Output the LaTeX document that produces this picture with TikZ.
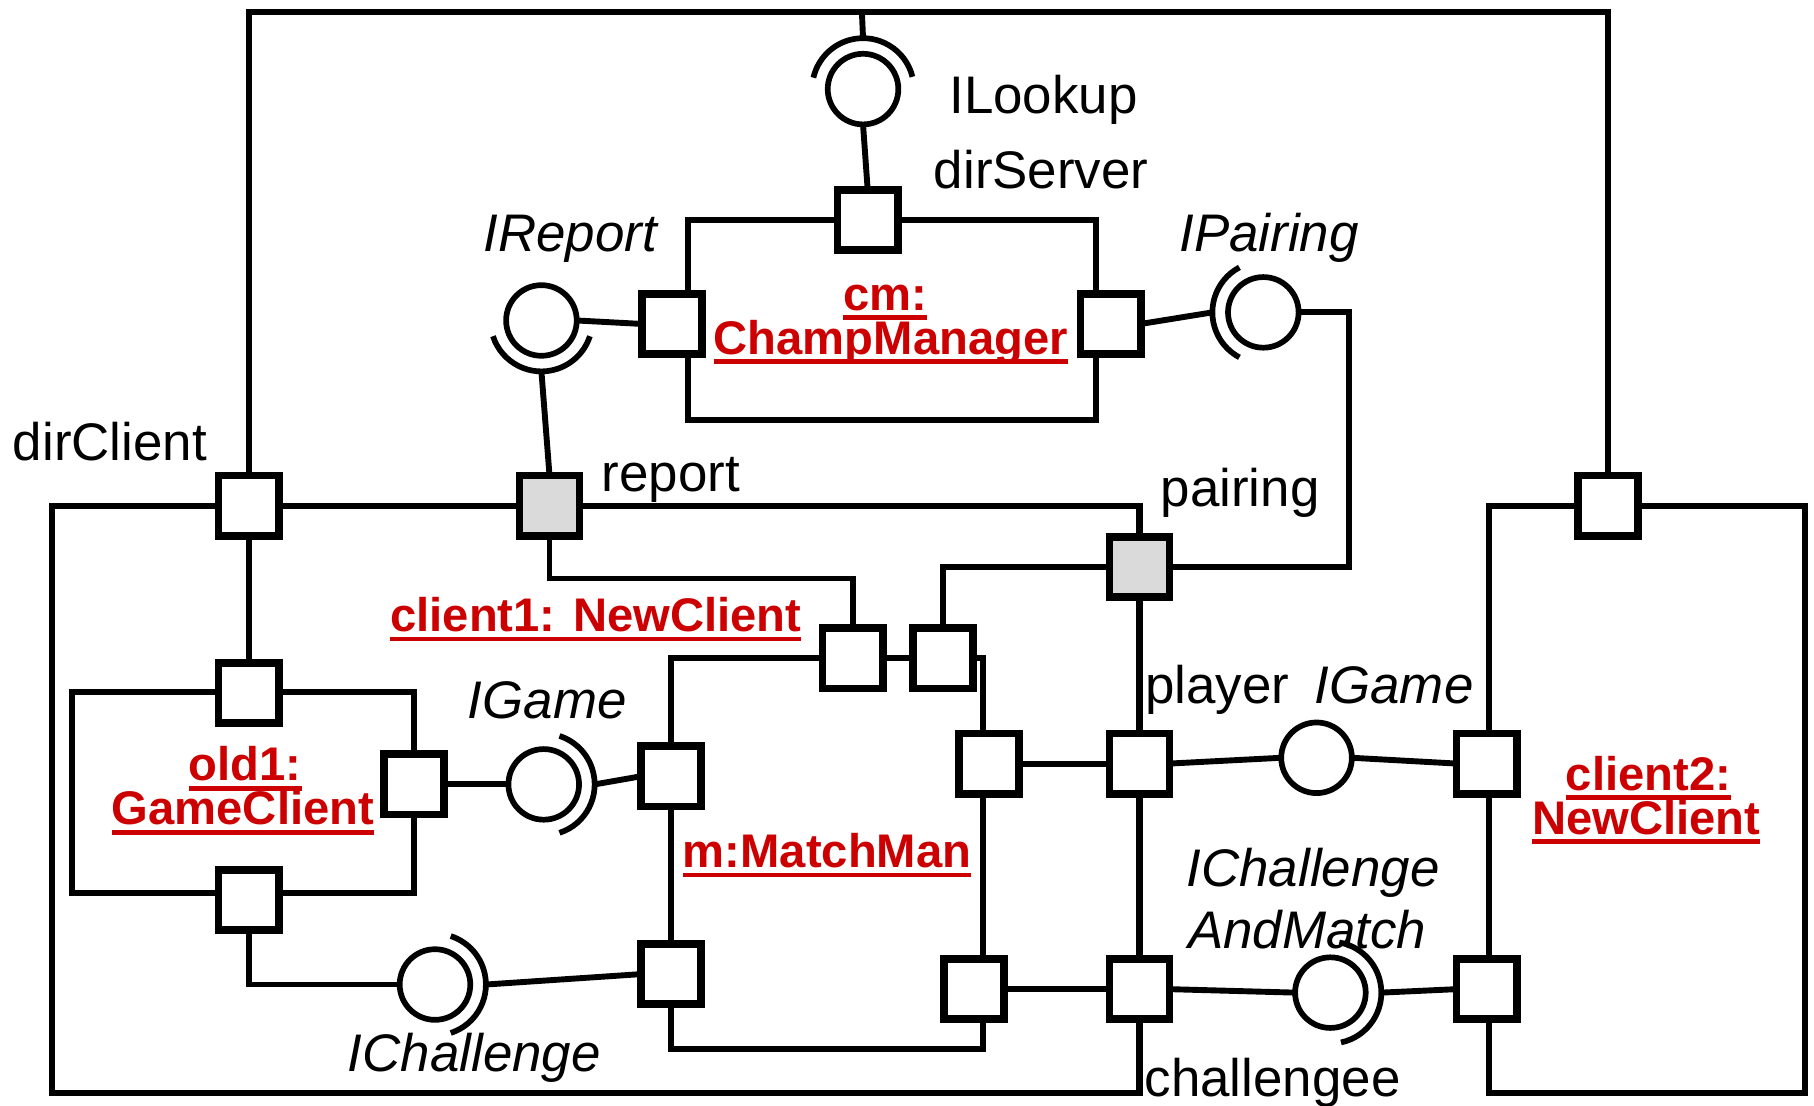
\documentclass[tikz,border=0pt]{standalone}
\usepackage{fontspec}
\setmainfont{Liberation Sans}
\usetikzlibrary{calc}
\definecolor{umlred}{RGB}{204,0,0}
\definecolor{portgray}{RGB}{218,218,218}
% underlined part name with a heavier rule
\newcommand\partul[1]{\setbox0\hbox{#1}\rlap{\rule[-2.4pt]{\wd0}{1.1pt}}\box0}
\tikzset{
  wire/.style={line width=1.45pt},
  frame/.style={line width=1.5pt},
  port/.style={draw, line width=1.9pt, fill=white, minimum size=0.52cm, inner sep=0pt, outer sep=0pt},
  dport/.style={port, fill=portgray},
  ball/.style={draw, circle, line width=1.4pt, minimum size=0.61cm, inner sep=0pt, outer sep=0pt, fill=white},
  sock/.style={line width=1.4pt},
  lbl/.style={font=\fontsize{13}{15.6}\selectfont, inner sep=0pt, anchor=base},
  ilbl/.style={lbl, font=\fontsize{13}{15.6}\selectfont\itshape},
  part/.style={font=\fontsize{11.6}{10}\selectfont\bfseries, text=umlred, inner sep=0pt, anchor=base},
}
\begin{document}
\begin{tikzpicture}[x=0.01cm,y=-0.01cm]
\useasboundingbox (0,0) rectangle (1568,956);

% component frames
\draw[frame] (595,190) rectangle (947,363);   % cm
\draw[frame] (45,437) rectangle (985,945);    % client1
\draw[frame] (62,598) rectangle (358,772);    % old1
\draw[frame] (580,569) rectangle (850,907);   % m
\draw[frame] (1287,437) rectangle (1560,945); % client2

% bends of the outer wires
\coordinate (cTL) at (215,10);
\coordinate (cTR) at (1390,10);
\coordinate (cLk) at (745,10);
\coordinate (kRep) at (737,500);
\coordinate (kPair) at (1166,490);

% ports
\node[port]  (pDirS)   at (750,190) {};
\node[port]  (pRepCm)  at (581,280) {};
\node[port]  (pPairCm) at (960,280) {};
\node[port]  (pDirC)   at (215,437) {};
\node[dport] (pRep)    at (475,437) {};
\node[dport] (pPair)   at (985,490) {};
\node[port]  (pM1)     at (737,569) {};
\node[port]  (pM2)     at (815,569) {};
\node[port]  (pOldT)   at (215,599) {};
\node[port]  (pOldR)   at (358,678) {};
\node[port]  (pOldB)   at (215,778) {};
\node[port]  (pMgL)    at (580,671) {};
\node[port]  (pMcL)    at (580,842) {};
\node[port]  (pMgR)    at (855,660) {};
\node[port]  (pMcR)    at (842,855) {};
\node[port]  (pPlayer) at (985,660) {};
\node[port]  (pChee)   at (985,855) {};
\node[port]  (pC2T)    at (1390,437) {};
\node[port]  (pC2g)    at (1285,660) {};
\node[port]  (pC2c)    at (1285,855) {};

% provided interfaces (balls)
\node[ball] (bLk)    at (746,77) {};
\node[ball] (bRep)   at (468,277) {};
\node[ball] (bPair)  at (1092,270) {};
\node[ball] (bGameL) at (470,678) {};
\node[ball] (bGameR) at (1138,655) {};
\node[ball] (bChal)  at (376,851) {};
\node[ball] (bCAM)   at (1150,858) {};

% required interfaces (sockets)
\draw[sock] ($(bLk)+(14:0.44cm)$) arc[start angle=14, end angle=167, radius=0.44cm];
\draw[sock] ($(bRep)+(198:0.44cm)$) arc[start angle=198, end angle=342, radius=0.44cm];
\draw[sock] ($(bPair)+(118:0.44cm)$) arc[start angle=118, end angle=242, radius=0.44cm];
\draw[sock] ($(bGameL)+(-72:0.44cm)$) arc[start angle=-72, end angle=72, radius=0.44cm];
\draw[sock] ($(bChal)+(-72:0.44cm)$) arc[start angle=-72, end angle=72, radius=0.44cm];
\draw[sock] ($(bCAM)+(-78:0.44cm)$) arc[start angle=-78, end angle=80, radius=0.44cm];
\coordinate (sLk)    at ($(bLk)+(90:0.44cm)$);
\coordinate (sRep)   at ($(bRep)+(270:0.44cm)$);
\coordinate (sPair)  at ($(bPair)+(180:0.44cm)$);
\coordinate (sGameL) at ($(bGameL)+(0:0.44cm)$);
\coordinate (sChal)  at ($(bChal)+(0:0.44cm)$);
\coordinate (sCAM)   at ($(bCAM)+(0:0.44cm)$);

% connectors
\draw[wire] (pDirC.north) -- (cTL) -- (cTR) -- (pC2T.north);
\draw[wire] (cLk) -- (sLk);
\draw[wire] (bLk.south) -- (pDirS.north);
\draw[wire] (bRep.east) -- (pRepCm.west);
\draw[wire] (sRep) -- (pRep.north);
\draw[wire] (pPairCm.east) -- (sPair);
\draw[wire] (bPair.east) -| (kPair) -- (pPair.east);
\draw[wire] (pRep.south) |- (kRep) -- (pM1.north);
\draw[wire] (pPair.west) -| (pM2.north);
\draw[wire] (pM1.east) -- (pM2.west);
\draw[wire] (pDirC.south) -- (pOldT.north);
\draw[wire] (pOldR.east) -- (bGameL.west);
\draw[wire] (sGameL) -- (pMgL.west);
\draw[wire] (pOldB.south) |- (bChal.west);
\draw[wire] (sChal) -- (pMcL.west);
\draw[wire] (pMgR.east) -- (pPlayer.west);
\draw[wire] (pPlayer.east) -- (bGameR.west);
\draw[wire] (bGameR.east) -- (pC2g.west);
\draw[wire] (pMcR.east) -- (pChee.west);
\draw[wire] (pChee.east) -- (bCAM.west);
\draw[wire] (sCAM) -- (pC2c.west);

% port and interface names
\node[lbl]  (tLookup) at (902,98)  {ILookup};
\node[lbl]  (tDirS)   at (900,163) {dirServer};
\node[ilbl] (tIRep)   at (493,217) {IReport};
\node[ilbl] (tIPair)  at (1097,217) {IPairing};
\node[lbl]  (tDirC)   at (95,398)  {dirClient};
\node[lbl]  (tRep)    at (580,425) {report};
\node[lbl]  (tPair)   at (1072,438) {pairing};
\node[ilbl] (tGameL)  at (473,621) {IGame};
\node[lbl]  (tPlayer) at (1052,608) {player};
\node[ilbl] (tGameR)  at (1205,608) {IGame};
\node[ilbl] (tCAM1)   at (1135,766) {IChallenge};
\node[ilbl] (tCAM2)   at (1130,820) {AndMatch};
\node[lbl]  (tChee)   at (1100,948) {challengee};
\node[ilbl] (tChal)   at (410,926) {IChallenge};

% part names
\node[part] (nCm1)  at (765,268) {\partul{cm:}};
\node[part] (nCm2)  at (770,306) {\partul{ChampManager}};
\node[part] (nCl1)  at (515,546) {\partul{client1: NewClient}};
\node[part] (nOld1) at (212,675) {\partul{old1:}};
\node[part] (nOld2) at (210,713) {\partul{GameClient}};
\node[part] (nM)    at (715,750) {\partul{m:MatchMan}};
\node[part] (nC21)  at (1425,683) {\partul{client2:}};
\node[part] (nC22)  at (1423,721) {\partul{NewClient}};
\end{tikzpicture}
\end{document}
